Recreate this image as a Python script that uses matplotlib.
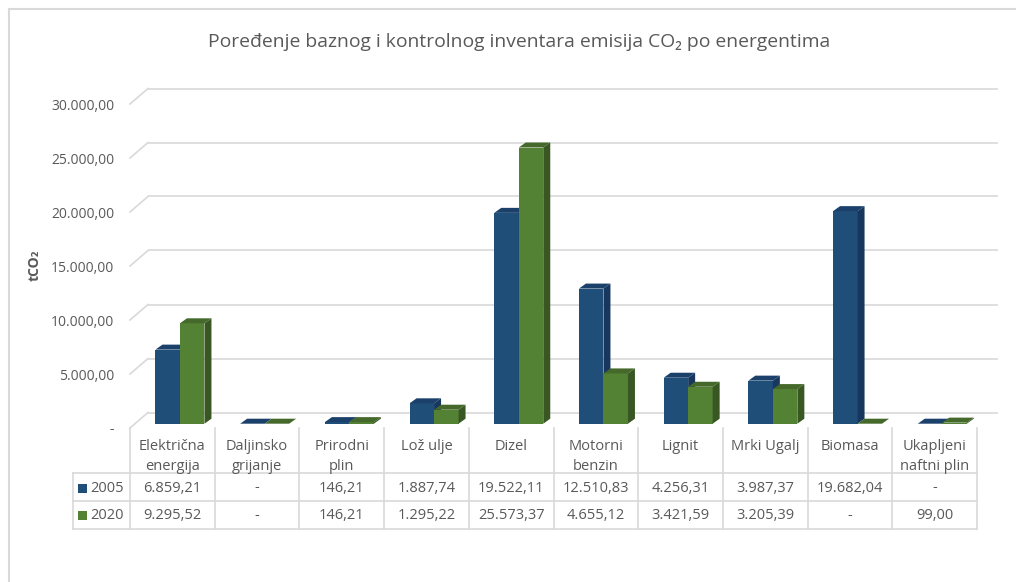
import matplotlib
matplotlib.use("Agg")
import matplotlib.pyplot as plt
from matplotlib import transforms
from matplotlib.patches import Rectangle

plt.rcParams['font.family'] = ['Open Sans', 'DejaVu Sans']

TITLE = "Poređenje baznog i kontrolnog inventara emisija CO₂ po energentima"
CATEGORIES = ["Električna\nenergija", "Daljinsko\ngrijanje", "Prirodni\nplin", "Lož ulje",
              "Dizel", "Motorni\nbenzin", "Lignit", "Mrki Ugalj", "Biomasa",
              "Ukapljeni\nnaftni plin"]
YEARS = ["2005", "2020"]
V2005 = [6859.21, None, 146.21, 1887.74, 19522.11, 12510.83, 4256.31, 3987.37, 19682.04, None]
V2020 = [9295.52, None, 146.21, 1295.22, 25573.37, 4655.12, 3421.59, 3205.39, None, 99.00]
YTICKS = [0, 5000, 10000, 15000, 20000, 25000, 30000]

# boja: (prednja, gornja, bočna strana)
COLORS = [("#1F4E79", "#1B416A", "#17375E"),
          ("#548235", "#44692B", "#385723")]
GRID = "#D9D9D9"
TXT = "#595959"


def fmt(v):
    if not v:
        return "-"
    return f"{v:,.2f}".replace(",", " ").replace(".", ",").replace(" ", ".")


W, H = 1016, 582
fig = plt.figure(figsize=(W / 100, H / 100), dpi=100)

# pomoćne ose u pikselima (tabela, okvir)
tb = fig.add_axes([0, 0, 1, 1])
tb.set_xlim(0, W); tb.set_ylim(H, 0)
tb.axis("off")

# prednja ravan grafikona
ax = fig.add_axes([130 / W, (H - 428) / H, 847 / W, 324 / H])
ax.set_xlim(-0.5, 9.5); ax.set_ylim(0, 30000)
ax.patch.set_alpha(0)
for s in ax.spines.values():
    s.set_visible(False)

PX_X = 847 / 10
PX_Y = 324 / 30000
dxu = lambda px: px / PX_X
dyu = lambda px: px / PX_Y

# zadnji zid + dijagonale
wx, wy = dxu(18), dyu(15.5)
for v in YTICKS:
    ax.plot([-0.5 + wx, 9.5 + dxu(21)], [v + wy, v + wy], color=GRID, lw=1.2,
            clip_on=False, zorder=1, solid_capstyle="butt")
    ax.plot([-0.5, -0.5 + wx], [v, v + wy], color=GRID, lw=1.2, clip_on=False, zorder=1)

# 3D stubci
bx, by = dxu(7.6), dyu(4.3)
ddx, ddy = dxu(7), dyu(5)
bw = dxu(24.5)
for k, vals in enumerate([V2005, V2020]):
    front, top, side = COLORS[k]
    for i, v in enumerate(vals):
        h = v or 0
        x0 = i + bx + (k - 1) * bw
        z = 3 + k
        if h > 0:
            ax.bar(x0, h, width=bw, bottom=by, align="edge", color=front, lw=0, zorder=z)
        ax.fill([x0, x0 + bw, x0 + bw + ddx, x0 + ddx],
                [by + h, by + h, by + h + ddy, by + h + ddy], color=top, lw=0, zorder=z)
        ax.fill([x0 + bw, x0 + bw + ddx, x0 + bw + ddx, x0 + bw],
                [by, by + ddy, by + h + ddy, by + h], color=side, lw=0, zorder=z)

ax.set_xticks([])
ax.set_yticks(YTICKS)
ax.set_yticklabels([fmt(v) for v in YTICKS])
ax.tick_params(axis="y", length=0, pad=11.5, labelsize=10, labelcolor=TXT)

# tabela podataka
bt = transforms.blended_transform_factory(ax.transData, tb.transData)
left = -0.5 - dxu(57)
for e in range(11):
    tb.plot([e - 0.5, e - 0.5], [428, 529], color=GRID, lw=1.2, transform=bt)
for y in [473, 501, 529]:
    tb.plot([left, 9.5], [y, y], color=GRID, lw=1.2, transform=bt)
tb.plot([left, left], [473, 529], color=GRID, lw=1.2, transform=bt)

for i, cat in enumerate(CATEGORIES):
    tb.text(i, 439.5, cat, transform=bt, ha="center", va="top", fontsize=10.5,
            color=TXT, linespacing=1.4)
for r, (yr, vals) in enumerate(zip(YEARS, [V2005, V2020])):
    yc = 488 + 27.5 * r
    tb.add_patch(Rectangle((left + dxu(5), yc - 4.5), dxu(9), 9,
                           color=COLORS[r][0], transform=bt, lw=0))
    tb.text(left + dxu(17), yc, yr, transform=bt, ha="left", va="center",
            fontsize=10.5, color=TXT)
    for i, v in enumerate(vals):
        tb.text(i, yc, fmt(v), transform=bt, ha="center", va="center",
                fontsize=10.5, color=TXT)

# okvir
tb.plot([9, 9], [9, H], color=GRID, lw=1.5)
tb.plot([9, W], [9, 9], color=GRID, lw=1.5)

fig.text(519 / W, 1 - 42 / H, TITLE, ha="center", va="center", fontsize=13.9, color=TXT)
fig.text(35 / W, 1 - 265 / H, "tCO₂", ha="center", va="center", rotation=90,
         fontsize=10, fontweight="bold", color=TXT)

fig.savefig("out.png", dpi=100)
